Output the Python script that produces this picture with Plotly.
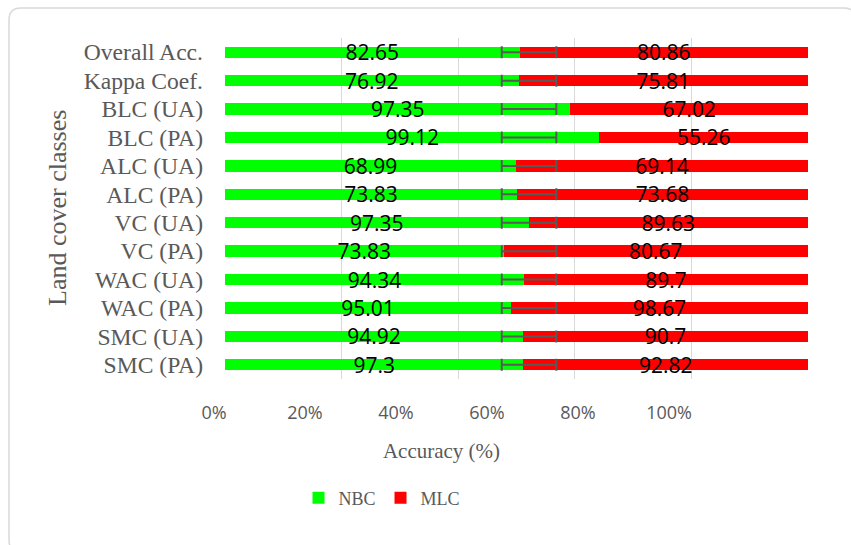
import plotly.graph_objects as go

# ---------------- data ----------------
categories = ["Overall Acc.", "Kappa Coef.", "BLC (UA)", "BLC (PA)", "ALC (UA)", "ALC (PA)",
              "VC (UA)", "VC (PA)", "WAC (UA)", "WAC (PA)", "SMC (UA)", "SMC (PA)"]
nbc = [82.65, 76.92, 97.35, 99.12, 68.99, 73.83, 97.35, 73.83, 94.34, 95.01, 94.92, 97.3]
mlc = [80.86, 75.81, 67.02, 55.26, 69.14, 73.68, 89.63, 80.67, 89.7, 98.67, 90.7, 92.82]
err_center = [52.15] * len(categories)
err_half = [4.68] * len(categories)
x_tickvals = [0, 20, 40, 60, 80, 100]
x_ticktext = ["0%", "20%", "40%", "60%", "80%", "100%"]

# ---------------- layout helpers ----------------
W, H = 851, 545
PL, PR, PT, PB = 214, 808, 38, 379          # plot area in pixels
pw, ph = PR - PL, PB - PT


def px_x(p):
    return (p - PL) / pw


def px_y(p):
    return (PB - p) / ph


GREY = "#595959"
SERIF = "Liberation Serif, Times New Roman, serif"
SANS = "Open Sans, sans-serif"

fig = go.Figure()
fig.add_trace(go.Bar(
    y=categories, x=nbc, name="NBC", orientation="h",
    marker=dict(color="#00ff00", line=dict(width=0)),
    text=[str(v) for v in nbc], textposition="inside", insidetextanchor="middle",
    textangle=0, constraintext="none",
    textfont=dict(family=SANS, size=21, color="black"),
))
fig.add_trace(go.Bar(
    y=categories, x=mlc, name="MLC", orientation="h",
    marker=dict(color="#ff0000", line=dict(width=0)),
    text=[str(v) for v in mlc], textposition="inside", insidetextanchor="middle",
    textangle=0, constraintext="none",
    textfont=dict(family=SANS, size=21, color="black"),
))
fig.add_trace(go.Scatter(
    y=categories, x=err_center, mode="markers",
    marker=dict(size=1, opacity=0), showlegend=False, hoverinfo="skip",
    error_x=dict(type="data", array=err_half, color=GREY, thickness=2, width=6),
))
# dummy trace for the tick-label axis
fig.add_trace(go.Scatter(x=[0], y=[0], xaxis="x2", yaxis="y2", mode="markers",
                         marker=dict(opacity=0), showlegend=False, hoverinfo="skip"))

n = len(categories)
x0 = (225 - PL) / pw
fig.update_layout(
    width=W, height=H,
    margin=dict(l=PL, r=W - PR, t=PT, b=H - PB, autoexpand=False),
    paper_bgcolor="white", plot_bgcolor="rgba(0,0,0,0)",
    barmode="stack", barnorm="percent", bargap=0.6,
    uniformtext=dict(minsize=21, mode="show"),
    xaxis=dict(domain=[x0, 1], range=[0, 100], dtick=20, showticklabels=False,
               showgrid=True, gridcolor="#d9d9d9", gridwidth=1, zeroline=False,
               showline=False, fixedrange=True),
    yaxis=dict(range=[n - 0.5, -0.5], showgrid=False, zeroline=False, showline=False,
               tickmode="array", tickvals=categories, ticktext=categories,
               ticks="", ticklabelstandoff=21,
               tickfont=dict(family=SERIF, size=23.6, color=GREY)),
    xaxis2=dict(domain=[0, (669 - PL) / pw], anchor="y2", range=[0, 100],
                tickvals=x_tickvals, ticktext=x_ticktext, showgrid=False,
                zeroline=False, showline=False, ticks="", ticklabelstandoff=21,
                tickfont=dict(family=SANS, size=18, color=GREY),
                title=dict(text="Accuracy (%)", standoff=20,
                           font=dict(family=SERIF, size=21, color=GREY))),
    yaxis2=dict(domain=[0, 1], anchor="x2", range=[0, 1], visible=False),
    legend=dict(orientation="h", x=px_x(382), xanchor="center", y=px_y(498),
                yanchor="middle", font=dict(family=SERIF, size=18, color=GREY),
                itemwidth=30, traceorder="normal", bgcolor="rgba(0,0,0,0)"),
    showlegend=True,
)

fig.add_annotation(text="Land cover classes", textangle=-90, showarrow=False,
                   xref="paper", yref="paper", x=px_x(57), y=px_y(208),
                   xanchor="center", yanchor="middle",
                   font=dict(family=SERIF, size=26, color=GREY))

# rounded chart border
L, R, T, B, r = 9, 856, 8, 552, 12
path = (f"M {px_x(L + r)},{px_y(T)} L {px_x(R - r)},{px_y(T)} "
        f"Q {px_x(R)},{px_y(T)} {px_x(R)},{px_y(T + r)} "
        f"L {px_x(R)},{px_y(B - r)} Q {px_x(R)},{px_y(B)} {px_x(R - r)},{px_y(B)} "
        f"L {px_x(L + r)},{px_y(B)} Q {px_x(L)},{px_y(B)} {px_x(L)},{px_y(B - r)} "
        f"L {px_x(L)},{px_y(T + r)} Q {px_x(L)},{px_y(T)} {px_x(L + r)},{px_y(T)} Z")
fig.add_shape(type="path", path=path, xref="paper", yref="paper",
              line=dict(color="#d9d9d9", width=1.5), layer="below")

fig.write_html("out.html", config={"displayModeBar": False},
               post_script="document.body.style.margin='0';"
               "document.body.style.overflow='hidden';")
